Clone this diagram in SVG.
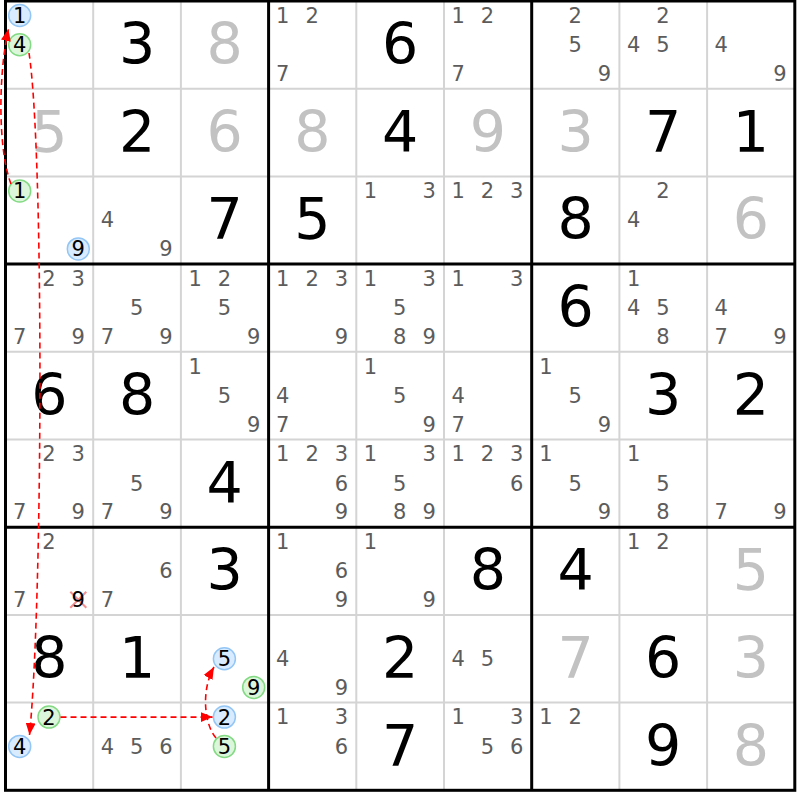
<svg xmlns="http://www.w3.org/2000/svg" width="800" height="800" viewBox="0 0 800 800">
<defs>
<style>
text{font-family:"DejaVu Sans",Verdana,sans-serif;text-anchor:middle}
.g{font-size:57px;fill:#000}
.s{font-size:57px;fill:#c2c2c2}
.c{font-size:21px;fill:#5c5c5c}
.k{font-size:21px;fill:#000}
.cb{fill:#d9ebff;stroke:#94c6f5;stroke-width:1.5}
.cg{fill:#dcf6dc;stroke:#84da84;stroke-width:1.5}
.thin{stroke:#d4d4d4;stroke-width:2}
.thick{stroke:#000;stroke-width:3;fill:none}
.link{fill:none;stroke:#f00;stroke-width:1.6;stroke-dasharray:6 4;marker-end:url(#arr)}
.x{stroke:#f59090;stroke-width:2}
</style>
<marker id="arr" viewBox="0 0 12 10" refX="12" refY="5" markerWidth="12" markerHeight="10" markerUnits="userSpaceOnUse" orient="auto"><path d="M0,0 L12,5 L0,10 z" fill="#f00"/></marker>
</defs>
<rect x="0" y="0" width="800" height="800" fill="#fff"/>
<g id="grid">
<path class="thin" d="M93.2,1V790.3M180.9,1V790.3M356.3,1V790.3M444,1V790.3M619.4,1V790.3M707.1,1V790.3M5.5,88.7H794.8M5.5,176.4H794.8M5.5,351.8H794.8M5.5,439.5H794.8M5.5,614.9H794.8M5.5,702.6H794.8"/>
<path class="thick" d="M268.6,1V790.3M531.7,1V790.3M5.5,264.1H794.8M5.5,527.2H794.8"/>
<rect class="thick" x="5.5" y="1" width="789.3" height="789.3"/>
</g>

<g id="r0c0" transform="translate(5.5,1)"><circle class="cb" cx="14.2" cy="14.5" r="11"/><text class="k" x="14.2" y="22">1</text><circle class="cg" cx="14.2" cy="43.8" r="11"/><text class="k" x="14.2" y="51.3">4</text></g>
<g id="r0c1" transform="translate(93.2,1)"><text class="g" x="43.85" y="63">3</text></g>
<g id="r0c2" transform="translate(180.9,1)"><text class="s" x="43.85" y="63">8</text></g>
<g id="r0c3" transform="translate(268.6,1)"><text class="c" x="14.2" y="21.8">1</text><text class="c" x="43.5" y="21.8">2</text><text class="c" x="14.2" y="79.8">7</text></g>
<g id="r0c4" transform="translate(356.3,1)"><text class="g" x="43.85" y="63">6</text></g>
<g id="r0c5" transform="translate(444,1)"><text class="c" x="14.2" y="21.8">1</text><text class="c" x="43.5" y="21.8">2</text><text class="c" x="14.2" y="79.8">7</text></g>
<g id="r0c6" transform="translate(531.7,1)"><text class="c" x="43.5" y="21.8">2</text><text class="c" x="43.5" y="51.1">5</text><text class="c" x="72.8" y="79.8">9</text></g>
<g id="r0c7" transform="translate(619.4,1)"><text class="c" x="43.5" y="21.8">2</text><text class="c" x="14.2" y="51.1">4</text><text class="c" x="43.5" y="51.1">5</text></g>
<g id="r0c8" transform="translate(707.1,1)"><text class="c" x="14.2" y="51.1">4</text><text class="c" x="72.8" y="79.8">9</text></g>

<g id="r1c0" transform="translate(5.5,88.7)"><text class="s" x="43.85" y="63">5</text></g>
<g id="r1c1" transform="translate(93.2,88.7)"><text class="g" x="43.85" y="63">2</text></g>
<g id="r1c2" transform="translate(180.9,88.7)"><text class="s" x="43.85" y="63">6</text></g>
<g id="r1c3" transform="translate(268.6,88.7)"><text class="s" x="43.85" y="63">8</text></g>
<g id="r1c4" transform="translate(356.3,88.7)"><text class="g" x="43.85" y="63">4</text></g>
<g id="r1c5" transform="translate(444,88.7)"><text class="s" x="43.85" y="63">9</text></g>
<g id="r1c6" transform="translate(531.7,88.7)"><text class="s" x="43.85" y="63">3</text></g>
<g id="r1c7" transform="translate(619.4,88.7)"><text class="g" x="43.85" y="63">7</text></g>
<g id="r1c8" transform="translate(707.1,88.7)"><text class="g" x="43.85" y="63">1</text></g>

<g id="r2c0" transform="translate(5.5,176.4)"><circle class="cg" cx="14.2" cy="14.5" r="11"/><text class="k" x="14.2" y="22">1</text><circle class="cb" cx="72.8" cy="72.5" r="11"/><text class="k" x="72.8" y="80">9</text></g>
<g id="r2c1" transform="translate(93.2,176.4)"><text class="c" x="14.2" y="51.1">4</text><text class="c" x="72.8" y="79.8">9</text></g>
<g id="r2c2" transform="translate(180.9,176.4)"><text class="g" x="43.85" y="63">7</text></g>
<g id="r2c3" transform="translate(268.6,176.4)"><text class="g" x="43.85" y="63">5</text></g>
<g id="r2c4" transform="translate(356.3,176.4)"><text class="c" x="14.2" y="21.8">1</text><text class="c" x="72.8" y="21.8">3</text></g>
<g id="r2c5" transform="translate(444,176.4)"><text class="c" x="14.2" y="21.8">1</text><text class="c" x="43.5" y="21.8">2</text><text class="c" x="72.8" y="21.8">3</text></g>
<g id="r2c6" transform="translate(531.7,176.4)"><text class="g" x="43.85" y="63">8</text></g>
<g id="r2c7" transform="translate(619.4,176.4)"><text class="c" x="43.5" y="21.8">2</text><text class="c" x="14.2" y="51.1">4</text></g>
<g id="r2c8" transform="translate(707.1,176.4)"><text class="s" x="43.85" y="63">6</text></g>

<g id="r3c0" transform="translate(5.5,264.1)"><text class="c" x="43.5" y="21.8">2</text><text class="c" x="72.8" y="21.8">3</text><text class="c" x="14.2" y="79.8">7</text><text class="c" x="72.8" y="79.8">9</text></g>
<g id="r3c1" transform="translate(93.2,264.1)"><text class="c" x="43.5" y="51.1">5</text><text class="c" x="14.2" y="79.8">7</text><text class="c" x="72.8" y="79.8">9</text></g>
<g id="r3c2" transform="translate(180.9,264.1)"><text class="c" x="14.2" y="21.8">1</text><text class="c" x="43.5" y="21.8">2</text><text class="c" x="43.5" y="51.1">5</text><text class="c" x="72.8" y="79.8">9</text></g>
<g id="r3c3" transform="translate(268.6,264.1)"><text class="c" x="14.2" y="21.8">1</text><text class="c" x="43.5" y="21.8">2</text><text class="c" x="72.8" y="21.8">3</text><text class="c" x="72.8" y="79.8">9</text></g>
<g id="r3c4" transform="translate(356.3,264.1)"><text class="c" x="14.2" y="21.8">1</text><text class="c" x="72.8" y="21.8">3</text><text class="c" x="43.5" y="51.1">5</text><text class="c" x="43.5" y="79.8">8</text><text class="c" x="72.8" y="79.8">9</text></g>
<g id="r3c5" transform="translate(444,264.1)"><text class="c" x="14.2" y="21.8">1</text><text class="c" x="72.8" y="21.8">3</text></g>
<g id="r3c6" transform="translate(531.7,264.1)"><text class="g" x="43.85" y="63">6</text></g>
<g id="r3c7" transform="translate(619.4,264.1)"><text class="c" x="14.2" y="21.8">1</text><text class="c" x="14.2" y="51.1">4</text><text class="c" x="43.5" y="51.1">5</text><text class="c" x="43.5" y="79.8">8</text></g>
<g id="r3c8" transform="translate(707.1,264.1)"><text class="c" x="14.2" y="51.1">4</text><text class="c" x="14.2" y="79.8">7</text><text class="c" x="72.8" y="79.8">9</text></g>

<g id="r4c0" transform="translate(5.5,351.8)"><text class="g" x="43.85" y="63">6</text></g>
<g id="r4c1" transform="translate(93.2,351.8)"><text class="g" x="43.85" y="63">8</text></g>
<g id="r4c2" transform="translate(180.9,351.8)"><text class="c" x="14.2" y="21.8">1</text><text class="c" x="43.5" y="51.1">5</text><text class="c" x="72.8" y="79.8">9</text></g>
<g id="r4c3" transform="translate(268.6,351.8)"><text class="c" x="14.2" y="51.1">4</text><text class="c" x="14.2" y="79.8">7</text></g>
<g id="r4c4" transform="translate(356.3,351.8)"><text class="c" x="14.2" y="21.8">1</text><text class="c" x="43.5" y="51.1">5</text><text class="c" x="72.8" y="79.8">9</text></g>
<g id="r4c5" transform="translate(444,351.8)"><text class="c" x="14.2" y="51.1">4</text><text class="c" x="14.2" y="79.8">7</text></g>
<g id="r4c6" transform="translate(531.7,351.8)"><text class="c" x="14.2" y="21.8">1</text><text class="c" x="43.5" y="51.1">5</text><text class="c" x="72.8" y="79.8">9</text></g>
<g id="r4c7" transform="translate(619.4,351.8)"><text class="g" x="43.85" y="63">3</text></g>
<g id="r4c8" transform="translate(707.1,351.8)"><text class="g" x="43.85" y="63">2</text></g>

<g id="r5c0" transform="translate(5.5,439.5)"><text class="c" x="43.5" y="21.8">2</text><text class="c" x="72.8" y="21.8">3</text><text class="c" x="14.2" y="79.8">7</text><text class="c" x="72.8" y="79.8">9</text></g>
<g id="r5c1" transform="translate(93.2,439.5)"><text class="c" x="43.5" y="51.1">5</text><text class="c" x="14.2" y="79.8">7</text><text class="c" x="72.8" y="79.8">9</text></g>
<g id="r5c2" transform="translate(180.9,439.5)"><text class="g" x="43.85" y="63">4</text></g>
<g id="r5c3" transform="translate(268.6,439.5)"><text class="c" x="14.2" y="21.8">1</text><text class="c" x="43.5" y="21.8">2</text><text class="c" x="72.8" y="21.8">3</text><text class="c" x="72.8" y="51.1">6</text><text class="c" x="72.8" y="79.8">9</text></g>
<g id="r5c4" transform="translate(356.3,439.5)"><text class="c" x="14.2" y="21.8">1</text><text class="c" x="72.8" y="21.8">3</text><text class="c" x="43.5" y="51.1">5</text><text class="c" x="43.5" y="79.8">8</text><text class="c" x="72.8" y="79.8">9</text></g>
<g id="r5c5" transform="translate(444,439.5)"><text class="c" x="14.2" y="21.8">1</text><text class="c" x="43.5" y="21.8">2</text><text class="c" x="72.8" y="21.8">3</text><text class="c" x="72.8" y="51.1">6</text></g>
<g id="r5c6" transform="translate(531.7,439.5)"><text class="c" x="14.2" y="21.8">1</text><text class="c" x="43.5" y="51.1">5</text><text class="c" x="72.8" y="79.8">9</text></g>
<g id="r5c7" transform="translate(619.4,439.5)"><text class="c" x="14.2" y="21.8">1</text><text class="c" x="43.5" y="51.1">5</text><text class="c" x="43.5" y="79.8">8</text></g>
<g id="r5c8" transform="translate(707.1,439.5)"><text class="c" x="14.2" y="79.8">7</text><text class="c" x="72.8" y="79.8">9</text></g>

<g id="r6c0" transform="translate(5.5,527.2)"><text class="c" x="43.5" y="21.8">2</text><text class="c" x="14.2" y="79.8">7</text><path class="x" d="M64.8,64.5L80.8,80.5M80.8,64.5L64.8,80.5"/><text class="k" x="72.8" y="80">9</text></g>
<g id="r6c1" transform="translate(93.2,527.2)"><text class="c" x="72.8" y="51.1">6</text><text class="c" x="14.2" y="79.8">7</text></g>
<g id="r6c2" transform="translate(180.9,527.2)"><text class="g" x="43.85" y="63">3</text></g>
<g id="r6c3" transform="translate(268.6,527.2)"><text class="c" x="14.2" y="21.8">1</text><text class="c" x="72.8" y="51.1">6</text><text class="c" x="72.8" y="79.8">9</text></g>
<g id="r6c4" transform="translate(356.3,527.2)"><text class="c" x="14.2" y="21.8">1</text><text class="c" x="72.8" y="79.8">9</text></g>
<g id="r6c5" transform="translate(444,527.2)"><text class="g" x="43.85" y="63">8</text></g>
<g id="r6c6" transform="translate(531.7,527.2)"><text class="g" x="43.85" y="63">4</text></g>
<g id="r6c7" transform="translate(619.4,527.2)"><text class="c" x="14.2" y="21.8">1</text><text class="c" x="43.5" y="21.8">2</text></g>
<g id="r6c8" transform="translate(707.1,527.2)"><text class="s" x="43.85" y="63">5</text></g>

<g id="r7c0" transform="translate(5.5,614.9)"><text class="g" x="43.85" y="63">8</text></g>
<g id="r7c1" transform="translate(93.2,614.9)"><text class="g" x="43.85" y="63">1</text></g>
<g id="r7c2" transform="translate(180.9,614.9)"><circle class="cb" cx="43.5" cy="43.8" r="11"/><text class="k" x="43.5" y="51.3">5</text><circle class="cg" cx="72.8" cy="72.5" r="11"/><text class="k" x="72.8" y="80">9</text></g>
<g id="r7c3" transform="translate(268.6,614.9)"><text class="c" x="14.2" y="51.1">4</text><text class="c" x="72.8" y="79.8">9</text></g>
<g id="r7c4" transform="translate(356.3,614.9)"><text class="g" x="43.85" y="63">2</text></g>
<g id="r7c5" transform="translate(444,614.9)"><text class="c" x="14.2" y="51.1">4</text><text class="c" x="43.5" y="51.1">5</text></g>
<g id="r7c6" transform="translate(531.7,614.9)"><text class="s" x="43.85" y="63">7</text></g>
<g id="r7c7" transform="translate(619.4,614.9)"><text class="g" x="43.85" y="63">6</text></g>
<g id="r7c8" transform="translate(707.1,614.9)"><text class="s" x="43.85" y="63">3</text></g>

<g id="r8c0" transform="translate(5.5,702.6)"><circle class="cg" cx="43.5" cy="14.5" r="11"/><text class="k" x="43.5" y="22">2</text><circle class="cb" cx="14.2" cy="43.8" r="11"/><text class="k" x="14.2" y="51.3">4</text></g>
<g id="r8c1" transform="translate(93.2,702.6)"><text class="c" x="14.2" y="51.1">4</text><text class="c" x="43.5" y="51.1">5</text><text class="c" x="72.8" y="51.1">6</text></g>
<g id="r8c2" transform="translate(180.9,702.6)"><circle class="cb" cx="43.5" cy="14.5" r="11"/><text class="k" x="43.5" y="22">2</text><circle class="cg" cx="43.5" cy="43.8" r="11"/><text class="k" x="43.5" y="51.3">5</text></g>
<g id="r8c3" transform="translate(268.6,702.6)"><text class="c" x="14.2" y="21.8">1</text><text class="c" x="72.8" y="21.8">3</text><text class="c" x="72.8" y="51.1">6</text></g>
<g id="r8c4" transform="translate(356.3,702.6)"><text class="g" x="43.85" y="63">7</text></g>
<g id="r8c5" transform="translate(444,702.6)"><text class="c" x="14.2" y="21.8">1</text><text class="c" x="72.8" y="21.8">3</text><text class="c" x="43.5" y="51.1">5</text><text class="c" x="72.8" y="51.1">6</text></g>
<g id="r8c6" transform="translate(531.7,702.6)"><text class="c" x="14.2" y="21.8">1</text><text class="c" x="43.5" y="21.8">2</text></g>
<g id="r8c7" transform="translate(619.4,702.6)"><text class="g" x="43.85" y="63">9</text></g>
<g id="r8c8" transform="translate(707.1,702.6)"><text class="s" x="43.85" y="63">8</text></g>

<g id="connectors">
<path class="link" d="M11,184 C-2,150 -2,75 8.5,29"/>
<path class="link" d="M29,53 C44,150 43,600 29.5,735"/>
<path class="link" d="M60.5,717.1 L212.5,717.1"/>
<path class="link" d="M216,738 C204,724 201,690 214,667"/>
</g>
</svg>
